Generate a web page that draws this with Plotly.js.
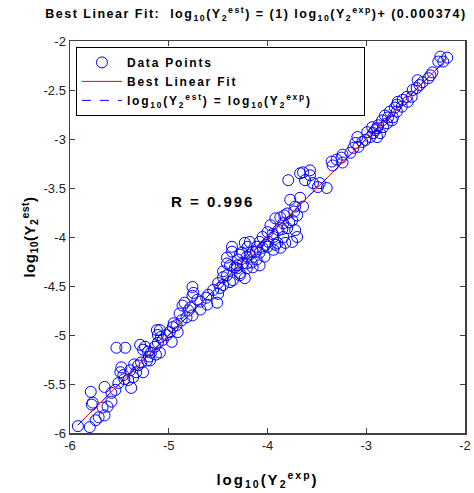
<!DOCTYPE html>
<html><head><meta charset="utf-8">
<script src="https://cdn.plot.ly/plotly-3.0.1.min.js"></script>
<style>body{margin:0;background:#fff}#c{width:474px;height:493px}
.gtitle{letter-spacing:1.5px}
.legendtext{letter-spacing:1.8px}
.annotation-text{letter-spacing:2px}
.xtitle{letter-spacing:2px}
.ytitle{letter-spacing:0.5px}
</style>
</head><body><div id="c"></div>
<script>
const xExp = [-5.92,-5.80,-5.71,-5.74,-5.77,-5.79,-5.65,-5.67,-5.62,-5.58,-5.65,-5.58,-5.53,-5.44,-5.54,-5.51,-5.48,-5.49,-5.46,-5.41,
-5.39,-5.36,-5.33,-5.31,-5.28,-5.38,-5.26,-5.29,-5.24,-5.21,-5.18,-5.13,-5.09,-5.11,-5.14,-5.08,-5.11,-5.78,-5.22,-5.26,
-5.09,-4.99,-5.06,-4.97,-4.91,-4.92,-4.87,-4.89,-4.82,-4.76,-4.78,-4.84,-4.86,-4.75,-4.76,-4.76,-4.71,-4.68,-4.61,-4.51,
-4.60,-4.55,-4.48,-4.50,-4.41,-4.38,-4.41,-4.33,-4.28,-4.21,-4.16,-4.26,-4.36,-4.15,-4.08,-4.18,-4.68,-4.96,-5.12,-5.19,
-4.45,-4.38,-4.31,-3.79,-3.67,-3.62,-3.57,-3.54,-3.49,-3.77,-3.67,-3.72,-3.64,-3.80,-3.70,-3.87,-3.92,-3.84,-3.75,-3.97,
-3.89,-3.80,-3.72,-4.00,-3.94,-3.84,-3.75,-3.70,-4.05,-3.99,-3.90,-3.82,-3.87,-3.94,-4.08,-4.11,-4.05,-4.18,-4.23,-4.36,
-4.41,-4.28,-4.21,-4.25,-4.11,-4.08,-4.31,-4.28,-4.21,-4.35,-4.23,-4.45,-4.15,-4.00,-3.64,-3.57,-3.40,-3.47,-3.35,-3.34,
-3.30,-3.25,-3.24,-3.24,-3.16,-3.13,-3.11,-3.08,-3.04,-3.09,-3.01,-2.99,-2.96,-2.94,-2.91,-2.88,-2.84,-2.81,-2.79,-2.76,
-2.73,-2.71,-2.69,-2.83,-2.86,-2.25,-2.18,-2.22,-2.27,-2.33,-2.35,-2.37,-2.43,-2.48,-2.46,-2.49,-2.53,-2.54,-2.59,-2.58,
-2.63,-2.64,-2.68,-2.69,-2.78,-2.74,-2.89,-2.93,-2.89,-3.95,-3.85,-3.78,-4.02,-3.92,-4.12,-4.03,-4.20,-3.73,-3.83,-4.50,
-4.62,-4.80,-4.95,-5.02,-5.20,-5.35,-5.45,-4.30,-4.45];
const yEst = [-5.93,-5.94,-5.84,-5.87,-5.69,-5.58,-5.82,-5.74,-5.73,-5.68,-5.53,-5.59,-5.13,-5.13,-5.56,-5.49,-5.33,-5.38,-5.41,-5.46,
-5.36,-5.43,-5.38,-5.31,-5.28,-5.54,-5.38,-5.10,-5.12,-5.17,-5.18,-5.20,-5.18,-5.08,-5.12,-5.02,-5.00,-5.71,-5.26,-5.15,
-4.95,-4.97,-5.05,-5.07,-4.97,-4.90,-4.85,-4.78,-4.82,-4.80,-4.72,-4.67,-4.70,-4.57,-4.51,-4.60,-4.64,-4.74,-4.69,-4.67,
-4.59,-4.54,-4.52,-4.47,-4.39,-4.46,-4.27,-4.31,-4.39,-4.27,-4.26,-4.16,-4.15,-4.15,-4.16,-4.18,-4.66,-4.92,-4.95,-5.26,
-4.49,-4.29,-4.32,-3.42,-3.35,-3.42,-3.37,-3.45,-3.49,-3.62,-3.60,-3.69,-3.69,-3.76,-3.78,-3.80,-3.81,-3.86,-3.83,-3.88,
-3.93,-3.91,-3.93,-3.95,-4.00,-4.00,-4.05,-4.00,-4.00,-4.05,-4.06,-4.06,-4.11,-4.13,-4.05,-4.10,-4.11,-4.05,-4.06,-4.10,
-4.21,-4.18,-4.20,-4.27,-4.23,-4.29,-4.29,-4.37,-4.32,-4.44,-4.42,-4.41,-4.31,-4.10,-3.34,-3.32,-3.50,-3.45,-3.23,-3.27,
-3.21,-3.19,-3.16,-3.24,-3.14,-3.09,-3.04,-3.08,-3.03,-2.98,-3.01,-2.93,-2.98,-2.88,-2.91,-2.86,-2.81,-2.76,-2.84,-2.72,
-2.78,-2.68,-2.65,-2.88,-2.94,-2.16,-2.17,-2.21,-2.21,-2.32,-2.35,-2.38,-2.42,-2.40,-2.45,-2.48,-2.50,-2.57,-2.57,-2.62,
-2.60,-2.67,-2.62,-2.72,-2.78,-2.81,-2.89,-2.94,-2.98,-3.97,-3.92,-3.85,-4.08,-4.08,-4.15,-4.20,-4.10,-3.74,-3.78,-4.58,
-4.62,-4.75,-4.88,-5.00,-5.22,-5.30,-5.45,-4.23,-4.35];
const fitSlope = 1;
const fitIntercept = 0.000374;
const lineX = [-5.92, -2.18];
const rText = 'R = 0.996';
const xTicks = [-6, -5, -4, -3, -2];
const yTicks = [-6, -5.5, -5, -4.5, -4, -3.5, -3, -2.5, -2];

const F = 'Liberation Sans, Arial, sans-serif';
const fitY = lineX.map(v => fitSlope * v + fitIntercept);
const pad = '\u00a0'.repeat(9);

const traces = [
  {x: xExp, y: yEst, type: 'scatter', mode: 'markers', name: 'Data Points',
   marker: {symbol: 'circle-open', size: 11, color: '#0000ff', line: {width: 1, color: '#0000ff'}}},
  {x: lineX, y: fitY, type: 'scatter', mode: 'lines', name: 'Best Linear Fit',
   line: {color: '#ff0000', width: 1}},
  {x: lineX, y: lineX, type: 'scatter', mode: 'lines',
   name: 'log<sub>10</sub>(Y<sub>2</sub><sup>est</sup>) = log<sub>10</sub>(Y<sub>2</sub><sup>exp</sup>)' + pad,
   line: {color: '#0000ff', width: 1, dash: 'dash'}}
];

const axisCommon = {
  showgrid: false, zeroline: false, showline: true, linecolor: '#404040', linewidth: 1.5,
  mirror: 'ticks', ticks: 'inside', ticklen: 5, tickcolor: '#404040', tickwidth: 1,
  tickfont: {family: F, size: 13, color: '#222'}
};

const layout = {
  width: 474, height: 493,
  margin: {l: 70, r: 9, t: 41, b: 60},
  paper_bgcolor: '#fff', plot_bgcolor: '#fff',
  showlegend: true,
  title: {text: 'Best Linear Fit:  log<sub>10</sub>(Y<sub>2</sub><sup>est</sup>) = (1) log<sub>10</sub>(Y<sub>2</sub><sup>exp</sup>)+ (0.000374)',
    font: {family: F, size: 12.5, color: '#000', weight: 'bold'}, x: 0.54, xanchor: 'center', y: 0.972, yanchor: 'middle'},
  xaxis: Object.assign({}, axisCommon, {range: [-6, -2], tickvals: xTicks, ticktext: xTicks.map(String),
    title: {text: 'log<sub>10</sub>(Y<sub>2</sub><sup>exp</sup>)', font: {family: F, size: 15, color: '#000', weight: 'bold'}, standoff: 22}}),
  yaxis: Object.assign({}, axisCommon, {range: [-6, -2], tickvals: yTicks, ticktext: yTicks.map(String),
    title: {text: 'log<sub>10</sub>(Y<sub>2</sub><sup>est</sup>)', font: {family: F, size: 15, color: '#000', weight: 'bold'}, standoff: 4}}),
  legend: {x: 0.015, y: 0.985, xanchor: 'left', yanchor: 'top', bgcolor: '#fff',
    bordercolor: '#000', borderwidth: 1, font: {family: F, size: 12, color: '#000', weight: 'bold'},
    tracegroupgap: 0, itemwidth: 40},
  annotations: [{x: -4.56, y: -3.64, xref: 'x', yref: 'y', text: rText, showarrow: false,
    font: {family: F, size: 15, color: '#000', weight: 'bold'}}]
};

Plotly.newPlot('c', traces, layout, {displayModeBar: false, staticPlot: true});
</script>
</body></html>
